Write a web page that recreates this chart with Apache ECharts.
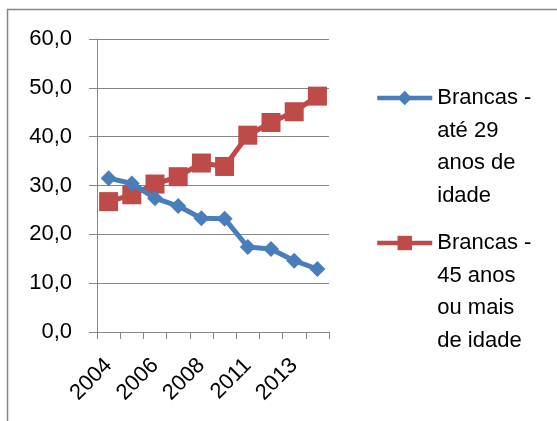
<!DOCTYPE html>
<html>
<head>
<meta charset="utf-8">
<script src="https://cdn.jsdelivr.net/npm/echarts@6/dist/echarts.min.js"></script>
<style>
html,body{margin:0;padding:0;background:#fff;}
#chart{width:557px;height:421px;}
</style>
</head>
<body>
<div id="chart"></div>
<script>
var years = ['2004','2005','2006','2007','2008','2009','2011','2012','2013','2014'];
var seriesNames = ['Brancas - até 29 anos de idade', 'Brancas - 45 anos ou mais de idade'];
var legendLines1 = ['Brancas -', 'até 29', 'anos de', 'idade'];
var legendLines2 = ['Brancas -', '45 anos', 'ou mais', 'de idade'];
var ate29 = [31.5, 30.4, 27.4, 25.8, 23.3, 23.2, 17.4, 17.0, 14.6, 12.9];
var mais45 = [26.7, 28.1, 30.3, 31.8, 34.6, 33.9, 40.3, 42.9, 45.1, 48.3];
var yTicks = { min: 0, max: 60, interval: 10 };

var FONT = 'Liberation Sans';
var gray = '#868686';
var blue = '#4A7EBB';
var red = '#BE4B48';
var LH = 32.5;

var chart = echarts.init(document.getElementById('chart'));
function legendCfg(name, lines, iconY) {
  // pad with empty lines above so the first text line sits level with the icon
  var pad = [];
  for (var i = 1; i < lines.length; i++) pad.push(' ');
  var total = pad.length + lines.length;
  return {
    data: [name],
    orient: 'vertical',
    left: 375,
    top: iconY - total * LH / 2,
    padding: 0,
    itemWidth: 55,
    itemHeight: 18,
    itemGap: 4,
    lineStyle: { width: 4.5 },
    formatter: function () { return pad.concat(lines).join('\n'); },
    textStyle: { fontFamily: FONT, fontSize: 22, color: '#000', lineHeight: LH }
  };
}
chart.setOption({
  animation: false,
  textStyle: { fontFamily: FONT },
  graphic: [{
    type: 'rect',
    shape: { x: 7.5, y: 9.5, width: 700, height: 600 },
    style: { fill: 'none', stroke: gray, lineWidth: 1.5 },
    silent: true, z: -1
  }],
  grid: { left: 97, right: 228, top: 39, bottom: 89, containLabel: false },
  legend: [
    legendCfg(seriesNames[0], legendLines1, 98),
    legendCfg(seriesNames[1], legendLines2, 243)
  ],
  xAxis: {
    type: 'category',
    data: years,
    boundaryGap: true,
    axisLine: { lineStyle: { color: gray, width: 1 } },
    axisTick: { show: true, alignWithLabel: false, interval: 0, length: 7, lineStyle: { color: gray } },
    axisLabel: { interval: 1, rotate: 45, fontFamily: FONT, fontSize: 22, color: '#000', margin: 30 },
    splitLine: { show: false }
  },
  yAxis: {
    type: 'value',
    min: yTicks.min, max: yTicks.max, interval: yTicks.interval,
    axisLine: { show: true, lineStyle: { color: gray, width: 1 } },
    axisTick: { show: true, length: 8, lineStyle: { color: gray } },
    axisLabel: {
      fontFamily: FONT, fontSize: 22, color: '#000', margin: 25,
      formatter: function (v) { return v.toFixed(1).replace('.', ','); }
    },
    splitLine: { show: true, lineStyle: { color: gray, width: 1 } }
  },
  series: [
    {
      name: seriesNames[0], type: 'line', data: ate29,
      symbol: 'diamond', symbolSize: 16, showSymbol: true, showAllSymbol: true,
      lineStyle: { color: blue, width: 5 },
      itemStyle: { color: blue },
      z: 3
    },
    {
      name: seriesNames[1], type: 'line', data: mais45,
      symbol: 'rect', symbolSize: 19, showSymbol: true, showAllSymbol: true,
      lineStyle: { color: red, width: 5 },
      itemStyle: { color: red },
      z: 2
    }
  ]
});
</script>
</body>
</html>
